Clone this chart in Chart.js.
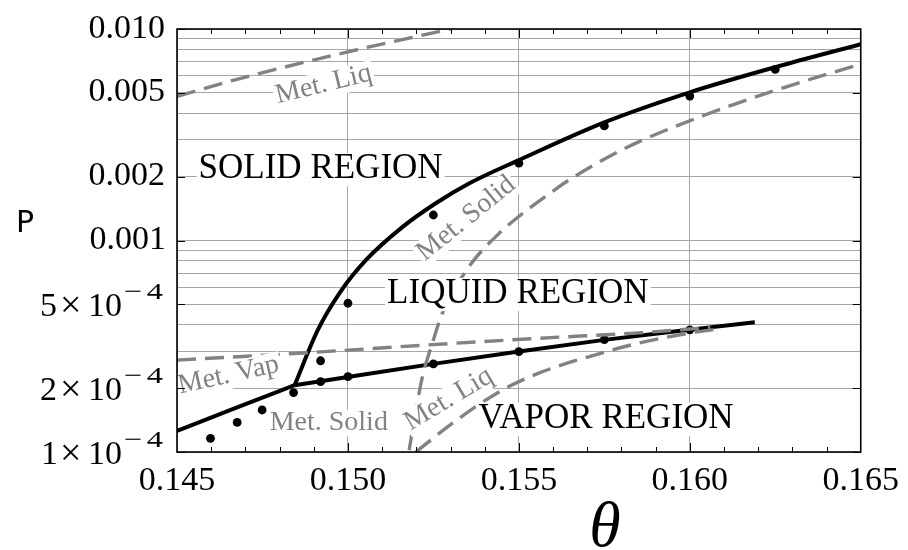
<!DOCTYPE html>
<html lang="en">
<head>
<meta charset="UTF-8">
<title>Phase diagram P vs theta</title>
<script src="https://cdn.jsdelivr.net/npm/chart.js"></script>
<style>
  body { margin: 0; background: #fff; }
  canvas { display: block; }
</style>
</head>
<body>
<canvas id="phaseChart" width="908" height="550"></canvas>
<script>
// simulation points
const simTheta = [0.14598, 0.14676, 0.14749, 0.14841, 0.1492, 0.1492, 0.150, 0.150, 0.1525, 0.1525, 0.155, 0.155, 0.1575, 0.1575, 0.160, 0.160, 0.1625];
const simP     = [1.16e-4, 1.38e-4, 1.58e-4, 1.91e-4, 2.70e-4, 2.15e-4, 5.05e-4, 2.27e-4, 1.32e-3, 2.61e-4, 2.32e-3, 2.98e-4, 3.48e-3, 3.40e-4, 4.82e-3, 3.78e-4, 6.45e-3];

// coexistence lines
const vapSolTheta = [0.145, 0.14672, 0.14844];
const vapSolP     = [1.26e-4, 1.615e-4, 2.07e-4];
const vapLiqTheta = [0.14844, 0.150, 0.1525, 0.155, 0.1575, 0.160, 0.1619];
const vapLiqP     = [2.07e-4, 2.265e-4, 2.61e-4, 2.985e-4, 3.39e-4, 3.79e-4, 4.11e-4];
const solLiqTheta = [0.14844, 0.14912, 0.14975, 0.15053, 0.1516, 0.15257, 0.15354, 0.155, 0.1575, 0.160, 0.1625, 0.165];
const solLiqP     = [2.07e-4, 3.78e-4, 5.63e-4, 8.09e-4, 1.16e-3, 1.50e-3, 1.86e-3, 2.40e-3, 3.62e-3, 5.02e-3, 6.6e-3, 8.47e-3];

// metastable branches (dashed)
const metLiqHiTheta = [0.145, 0.1467, 0.150, 0.1530];
const metLiqHiP     = [4.8e-3, 5.75e-3, 7.8e-3, 1.0e-2];
const metVapTheta   = [0.145, 0.1487, 0.1521, 0.1556, 0.1585, 0.1606];
const metVapP       = [2.72e-4, 2.94e-4, 3.19e-4, 3.45e-4, 3.66e-4, 3.88e-4];
const metSolTheta   = [0.15179, 0.15199, 0.15218, 0.15247, 0.15276, 0.15354, 0.15442, 0.155, 0.15597, 0.15646, 0.15811, 0.16044, 0.16278, 0.16491];
const metSolP       = [1.02e-4, 1.58e-4, 2.27e-4, 3.27e-4, 4.53e-4, 7.52e-4, 1.08e-3, 1.30e-3, 1.70e-3, 1.93e-3, 2.73e-3, 3.92e-3, 5.30e-3, 6.76e-3];
const metLiqLoTheta = [0.15199, 0.15306, 0.15451, 0.15558, 0.15704, 0.1585, 0.15996, 0.16073];
const metLiqLoP     = [1.0e-4, 1.37e-4, 1.96e-4, 2.36e-4, 2.82e-4, 3.27e-4, 3.64e-4, 3.80e-4];

// axes
const xTickValues = [0.145, 0.150, 0.155, 0.160, 0.165];
const yGridValues = [1e-4, 2e-4, 3e-4, 4e-4, 5e-4, 6e-4, 7e-4, 8e-4, 9e-4,
                     1e-3, 2e-3, 3e-3, 4e-3, 5e-3, 6e-3, 7e-3, 8e-3, 9e-3, 1e-2];
const yLabelValues = [0.010, 0.005, 0.002, 0.001, 5e-4, 2e-4, 1e-4];

const SERIF = "'Liberation Serif', 'Times New Roman', serif";
const GRAY = '#828282';

function pts(xs, ys) { return xs.map((x, i) => ({ x: x, y: ys[i] })); }

function solidLine(xs, ys) {
  return { data: pts(xs, ys), showLine: true, borderColor: '#000', borderWidth: 4,
           pointRadius: 0, cubicInterpolationMode: 'monotone', fill: false };
}
function dashedLine(xs, ys) {
  return { data: pts(xs, ys), showLine: true, borderColor: GRAY, borderWidth: 3.4,
           borderDash: [19, 9], pointRadius: 0, cubicInterpolationMode: 'monotone', fill: false };
}

// text drawn on the plot, anchored in data coordinates
const plotTexts = [
  { text: 'SOLID REGION',  t: 0.1492,  p: 1.97e-3, rot: 0,   align: 'center', size: 35, color: '#000' },
  { text: 'LIQUID REGION', t: 0.15497, p: 5.06e-4, rot: 0,   align: 'center', size: 35, color: '#000' },
  { text: 'VAPOR REGION',  t: 0.15755, p: 1.30e-4, rot: 0,   align: 'center', size: 35, color: '#000' },
  { text: 'Met. Liq',      t: 0.14795, p: 4.45e-3, rot: -13.8, align: 'left', size: 28, color: GRAY },
  { text: 'Met. Vap',      t: 0.14509, p: 1.89e-4, rot: -12.5, align: 'left', size: 28, color: GRAY },
  { text: 'Met. Solid',    t: 0.14771, p: 1.27e-4, rot: 0,     align: 'left', size: 28, color: GRAY },
  { text: 'Met. Liq',      t: 0.15183, p: 1.26e-4, rot: -31,   align: 'left', size: 28, color: GRAY },
  { text: 'Met. Solid',    t: 0.15225, p: 7.95e-4, rot: -39,   align: 'left', size: 28, color: GRAY }
];

// draw text so that its ink ends at inkRight
function inkText(ctx, s, inkRight, base) {
  const m = ctx.measureText(s);
  ctx.fillText(s, inkRight - m.actualBoundingBoxRight, base);
}

const framePlugin = {
  id: 'frame',
  afterDatasetsDraw(chart) {
    const ctx = chart.ctx, a = chart.chartArea;
    const xs = chart.scales.x, ys = chart.scales.y;
    ctx.save();

    // labels with white backing
    plotTexts.forEach(l => {
      const px = xs.getPixelForValue(l.t), py = ys.getPixelForValue(l.p);
      ctx.save();
      ctx.translate(px, py);
      ctx.rotate(l.rot * Math.PI / 180);
      ctx.font = l.size + 'px ' + SERIF;
      const w = ctx.measureText(l.text).width;
      const x0 = l.align === 'center' ? -w / 2 : 0;
      ctx.fillStyle = '#fff';
      ctx.fillRect(x0 - 2, -l.size * 0.72, w + 4, l.size * 0.95);
      ctx.fillStyle = l.color;
      ctx.textAlign = 'left';
      ctx.textBaseline = 'alphabetic';
      ctx.fillText(l.text, x0, 0);
      ctx.restore();
    });

    // frame
    ctx.strokeStyle = '#000';
    ctx.lineWidth = 1.6;
    ctx.strokeRect(a.left, a.top, a.right - a.left, a.bottom - a.top);

    // inward ticks on x (every 0.001)
    ctx.lineWidth = 1;
    for (let i = 146; i <= 164; i++) {
      const x = Math.round(xs.getPixelForValue(i / 1000)) + 0.5;
      const len = i % 5 === 0 ? 9 : 5;
      ctx.beginPath();
      ctx.moveTo(x, a.bottom); ctx.lineTo(x, a.bottom - len);
      ctx.moveTo(x, a.top); ctx.lineTo(x, a.top + len);
      ctx.stroke();
    }
    // inward ticks on y at labelled values
    yLabelValues.forEach(v => {
      const y = Math.round(ys.getPixelForValue(v)) + 0.5;
      ctx.beginPath();
      ctx.moveTo(a.left, y); ctx.lineTo(a.left + 8, y);
      ctx.moveTo(a.right, y); ctx.lineTo(a.right - 8, y);
      ctx.stroke();
    });

    // y tick labels
    ctx.fillStyle = '#000';
    ctx.textBaseline = 'alphabetic';
    ctx.textAlign = 'left';
    const R = a.left - 14;
    yLabelValues.forEach(v => {
      const ty = ys.getPixelForValue(v);
      ctx.font = '34px ' + SERIF;
      if (v >= 0.001) {
        inkText(ctx, v.toFixed(3), R + 1, ty + 8.5);
      } else {
        const base = ty + 12;
        inkText(ctx, String(Math.round(v / 1e-4)), R - 107, base);
        ctx.font = '38px ' + SERIF;
        inkText(ctx, '\u00d7', R - 84, base + 1);
        ctx.font = '34px ' + SERIF;
        inkText(ctx, '10', R - 42, base);
        // superscript exponent, slightly widened
        ctx.save();
        ctx.font = '24px ' + SERIF;
        ctx.translate(R, base - 17);
        ctx.scale(1.35, 1);
        inkText(ctx, '4', 0, 0);
        inkText(ctx, '\u2212', -21.5 / 1.35, 0);
        ctx.restore();
      }
    });

    // axis titles
    ctx.textAlign = 'center';
    ctx.font = "30px 'DejaVu Sans', sans-serif";
    ctx.fillText('P', 25, 232);
    ctx.font = 'italic 64px ' + SERIF;
    ctx.fillText('\u03b8', 605, 546);
    ctx.restore();
  }
};

new Chart(document.getElementById('phaseChart'), {
  type: 'scatter',
  data: {
    datasets: [
      dashedLine(metLiqHiTheta, metLiqHiP),
      dashedLine(metVapTheta, metVapP),
      dashedLine(metSolTheta, metSolP),
      dashedLine(metLiqLoTheta, metLiqLoP),
      solidLine(vapSolTheta, vapSolP),
      solidLine(vapLiqTheta, vapLiqP),
      solidLine(solLiqTheta, solLiqP),
      { data: pts(simTheta, simP), pointRadius: 4.4, pointBackgroundColor: '#000',
        pointBorderWidth: 0, showLine: false }
    ]
  },
  options: {
    responsive: false,
    animation: false,
    layout: { padding: { top: 29, right: 45, left: 0, bottom: 0 } },
    plugins: { legend: { display: false }, tooltip: { enabled: false } },
    scales: {
      x: {
        type: 'linear', min: 0.145, max: 0.165,
        afterBuildTicks: s => { s.ticks = xTickValues.map(v => ({ value: v })); },
        afterFit: s => { s.height = 98; },
        grid: { color: '#a6a6a6', lineWidth: 1, drawTicks: false },
        border: { display: false },
        ticks: {
          color: '#000', font: { family: SERIF, size: 34 }, padding: 9,
          maxRotation: 0, autoSkip: false, callback: v => v.toFixed(3)
        }
      },
      y: {
        type: 'logarithmic', min: 1e-4, max: 1e-2,
        afterBuildTicks: s => { s.ticks = yGridValues.map(v => ({ value: v })); },
        afterFit: s => { s.width = 177; },
        grid: { color: '#a6a6a6', lineWidth: 1, drawTicks: false },
        border: { display: false },
        ticks: { display: false }
      }
    }
  },
  plugins: [framePlugin]
});
</script>
</body>
</html>
